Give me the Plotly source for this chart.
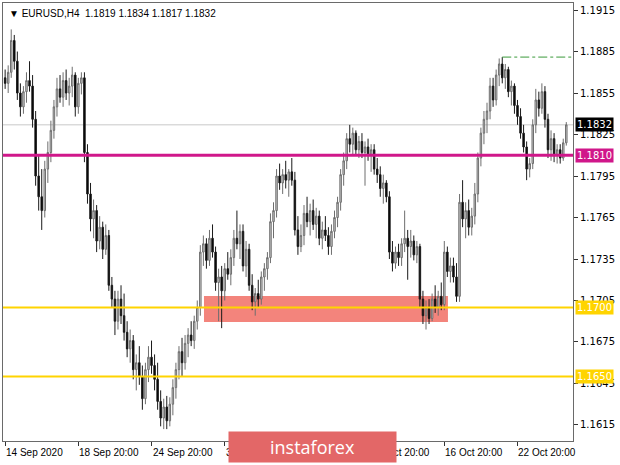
import plotly.graph_objects as go

# ---- data (EURUSD H4) ----
opens = [1.1866,1.1862,1.1870,1.1893,1.1878,1.1855,1.1845,1.1856,1.1864,1.1860,
         1.1836,1.1795,1.1780,1.1770,1.1800,1.1812,1.1828,1.1845,1.1858,1.1852,
         1.1864,1.1855,1.1860,1.1868,1.1845,1.1862,1.1866,1.1812,1.1782,1.1764,
         1.1770,1.1748,1.1758,1.1742,1.1752,1.1716,1.1706,1.1690,1.1706,1.1694,
         1.1682,1.1670,1.1676,1.1655,1.1660,1.1650,1.1634,1.1655,1.1664,1.1658,
         1.1648,1.1632,1.1620,1.1628,1.1618,1.1630,1.1642,1.1655,1.1668,1.1660,
         1.1674,1.1680,1.1676,1.1690,1.1700,1.1740,1.1746,1.1734,1.1750,1.1740,
         1.1718,1.1722,1.1712,1.1728,1.1724,1.1736,1.1750,1.1746,1.1755,1.1730,
         1.1742,1.1716,1.1704,1.1710,1.1706,1.1722,1.1728,1.1736,1.1762,1.1770,
         1.1795,1.1790,1.1796,1.1792,1.1798,1.1792,1.1756,1.1744,1.1752,1.1768,
         1.1762,1.1770,1.1760,1.1766,1.1750,1.1756,1.1752,1.1744,1.1755,1.1765,
         1.1776,1.1796,1.1806,1.1822,1.1818,1.1826,1.1814,1.1820,1.1812,1.1816,
         1.1810,1.1814,1.1800,1.1796,1.1786,1.1790,1.1780,1.1740,1.1732,1.1740,
         1.1736,1.1746,1.1750,1.1744,1.1748,1.1738,1.1744,1.1706,1.1694,1.1700,
         1.1692,1.1706,1.1700,1.1708,1.1702,1.1740,1.1726,1.1730,1.1722,1.1708,
         1.1776,1.1764,1.1770,1.1758,1.1766,1.1782,1.1808,1.1826,1.1836,1.1842,
         1.1860,1.1850,1.1868,1.1876,1.1866,1.1872,1.1856,1.1860,1.1846,1.1838,
         1.1826,1.1816,1.1800,1.1804,1.1832,1.1850,1.1844,1.1856,1.1836,1.1814,
         1.1822,1.1810,1.1814,1.1808,1.1819]
highs = [1.1872,1.1875,1.1901,1.1897,1.1885,1.1862,1.1860,1.1870,1.1878,1.1868,
         1.1842,1.1810,1.1800,1.1806,1.1820,1.1835,1.1850,1.1866,1.1868,1.1870,
         1.1872,1.1866,1.1874,1.1870,1.1866,1.1870,1.1870,1.1818,1.1790,1.1778,
         1.1774,1.1766,1.1762,1.1760,1.1756,1.1722,1.1712,1.1712,1.1716,1.1710,
         1.1690,1.1684,1.1680,1.1666,1.1672,1.1658,1.1660,1.1672,1.1676,1.1666,
         1.1660,1.1640,1.1634,1.1636,1.1635,1.1648,1.1660,1.1672,1.1678,1.1680,
         1.1685,1.1690,1.1694,1.1705,1.1745,1.1752,1.1750,1.1756,1.1760,1.1744,
         1.1728,1.1730,1.1732,1.1740,1.1742,1.1756,1.1770,1.1760,1.1760,1.1748,
         1.1746,1.1724,1.1714,1.1720,1.1726,1.1732,1.1740,1.1768,1.1776,1.1800,
         1.1804,1.1800,1.1806,1.1800,1.1808,1.1798,1.1766,1.1760,1.1774,1.1780,
         1.1775,1.1778,1.1772,1.1770,1.1762,1.1766,1.1758,1.1760,1.1770,1.1780,
         1.1800,1.1812,1.1826,1.1832,1.1830,1.1828,1.1824,1.1826,1.1820,1.1822,
         1.1818,1.1818,1.1808,1.1802,1.1796,1.1792,1.1784,1.1748,1.1744,1.1746,
         1.1750,1.1770,1.1756,1.1756,1.1752,1.1748,1.1746,1.1712,1.1705,1.1706,
         1.1710,1.1716,1.1712,1.1718,1.1748,1.1744,1.1736,1.1736,1.1732,1.1782,
         1.1792,1.1776,1.1778,1.1772,1.1790,1.1812,1.1830,1.1842,1.1848,1.1866,
         1.1866,1.1872,1.1880,1.1881,1.1876,1.1874,1.1864,1.1862,1.1850,1.1844,
         1.1832,1.1820,1.1808,1.1836,1.1858,1.1856,1.1862,1.1860,1.1840,1.1828,
         1.1826,1.1818,1.1818,1.1822,1.1834]
lows = [1.1858,1.1855,1.1866,1.1872,1.1850,1.1838,1.1840,1.1848,1.1856,1.1830,
        1.1788,1.1770,1.1756,1.1765,1.1790,1.1805,1.1822,1.1838,1.1848,1.1845,
        1.1850,1.1846,1.1852,1.1838,1.1840,1.1854,1.1805,1.1775,1.1755,1.1750,
        1.1740,1.1742,1.1735,1.1738,1.1712,1.1700,1.1680,1.1684,1.1688,1.1676,
        1.1664,1.1660,1.1648,1.1640,1.1644,1.1626,1.1630,1.1646,1.1652,1.1640,
        1.1626,1.1614,1.1612,1.1612,1.1614,1.1622,1.1634,1.1648,1.1650,1.1655,
        1.1664,1.1672,1.1670,1.1684,1.1694,1.1730,1.1728,1.1730,1.1736,1.1712,
        1.1690,1.1685,1.1705,1.1720,1.1716,1.1730,1.1742,1.1735,1.1726,1.1722,
        1.1712,1.1698,1.1694,1.1700,1.1702,1.1712,1.1720,1.1732,1.1750,1.1765,
        1.1785,1.1782,1.1786,1.1780,1.1788,1.1752,1.1738,1.1740,1.1745,1.1758,
        1.1752,1.1756,1.1750,1.1745,1.1742,1.1748,1.1738,1.1738,1.1750,1.1758,
        1.1770,1.1788,1.1800,1.1812,1.1810,1.1810,1.1808,1.1808,1.1788,1.1806,
        1.1798,1.1796,1.1790,1.1780,1.1775,1.1776,1.1735,1.1726,1.1728,1.1730,
        1.1730,1.1740,1.1720,1.1736,1.1734,1.1732,1.1700,1.1688,1.1684,1.1688,
        1.1690,1.1696,1.1694,1.1698,1.1698,1.1722,1.1718,1.1718,1.1704,1.1704,
        1.1758,1.1750,1.1752,1.1752,1.1760,1.1776,1.1802,1.1818,1.1826,1.1836,
        1.1845,1.1846,1.1860,1.1862,1.1858,1.1852,1.1846,1.1840,1.1832,1.1822,
        1.1812,1.1792,1.1794,1.1800,1.1826,1.1838,1.1840,1.1830,1.1808,1.1806,
        1.1805,1.1804,1.1804,1.1806,1.1817]
closes = [1.1862,1.1870,1.1893,1.1878,1.1855,1.1845,1.1856,1.1864,1.1860,1.1836,
          1.1795,1.1780,1.1770,1.1800,1.1812,1.1828,1.1845,1.1858,1.1852,1.1864,
          1.1855,1.1860,1.1868,1.1845,1.1862,1.1866,1.1812,1.1782,1.1764,1.1770,
          1.1748,1.1758,1.1742,1.1752,1.1716,1.1706,1.1690,1.1706,1.1694,1.1682,
          1.1670,1.1676,1.1655,1.1660,1.1650,1.1634,1.1655,1.1664,1.1658,1.1648,
          1.1632,1.1620,1.1628,1.1618,1.1630,1.1642,1.1655,1.1668,1.1660,1.1674,
          1.1680,1.1676,1.1690,1.1700,1.1740,1.1746,1.1734,1.1750,1.1740,1.1718,
          1.1722,1.1712,1.1728,1.1724,1.1736,1.1750,1.1746,1.1755,1.1730,1.1742,
          1.1716,1.1704,1.1710,1.1706,1.1722,1.1728,1.1736,1.1762,1.1770,1.1795,
          1.1790,1.1796,1.1792,1.1798,1.1792,1.1756,1.1744,1.1752,1.1768,1.1762,
          1.1770,1.1760,1.1766,1.1750,1.1756,1.1752,1.1744,1.1755,1.1765,1.1776,
          1.1796,1.1806,1.1822,1.1818,1.1826,1.1814,1.1820,1.1812,1.1816,1.1810,
          1.1814,1.1800,1.1796,1.1786,1.1790,1.1780,1.1740,1.1732,1.1740,1.1736,
          1.1746,1.1750,1.1744,1.1748,1.1738,1.1744,1.1706,1.1694,1.1700,1.1692,
          1.1706,1.1700,1.1708,1.1702,1.1740,1.1726,1.1730,1.1722,1.1708,1.1776,
          1.1764,1.1770,1.1758,1.1766,1.1782,1.1808,1.1826,1.1836,1.1842,1.1860,
          1.1850,1.1868,1.1876,1.1866,1.1872,1.1856,1.1860,1.1846,1.1838,1.1826,
          1.1816,1.1800,1.1804,1.1832,1.1850,1.1844,1.1856,1.1836,1.1814,1.1822,
          1.1810,1.1814,1.1808,1.1819,1.1832]

y_tick_vals = [1.1615, 1.1645, 1.1675, 1.1705, 1.1735, 1.1765, 1.1795,
               1.1825, 1.1855, 1.1885, 1.1915]
y_tick_text = ["1.1615", "1.1645", "1.1675", "1.1705", "1.1735", "1.1765",
               "1.1795", "1.1825", "1.1855", "1.1885", "1.1915"]
x_tick_idx = [0, 24, 48, 72, 96, 120, 144, 168]
x_tick_text = ["14 Sep 2020", "18 Sep 20:00", "24 Sep 20:00", "30 Sep 20:00",
               "6 Oct 20:00", "12 Oct 20:00", "16 Oct 20:00", "22 Oct 20:00"]

level_prices = [1.1810, 1.1700, 1.1650]
level_labels = ["1.1810", "1.1700", "1.1650"]
current_price = 1.1832
zone_low, zone_high = 1.16895, 1.17083
zone_start, zone_end = 65.2, 145.2
peak_price = 1.1881
peak_idx = 163
title_text = "\u25bc EURUSD,H4  1.1819 1.1834 1.1817 1.1832"

idx = list(range(len(closes)))
FONT = "DejaVu Sans"
FONT2 = "Liberation Sans"

fig = go.Figure()
fig.add_trace(go.Candlestick(
    x=idx, open=opens, high=highs, low=lows, close=closes,
    increasing=dict(line=dict(color="#6e6e6e", width=1), fillcolor="#d0d0d0"),
    decreasing=dict(line=dict(color="#1a1a1a", width=1), fillcolor="#000000"),
    whiskerwidth=0, hoverinfo="skip", showlegend=False,
))

shapes = []
shapes.append(dict(type="rect", xref="x", yref="y", x0=zone_start, x1=zone_end,
                   y0=zone_low, y1=zone_high, fillcolor="#f3847c",
                   line=dict(width=0), layer="below"))
shapes.append(dict(type="line", xref="paper", yref="y", x0=0, x1=1,
                   y0=current_price, y1=current_price,
                   line=dict(color="#c8c8c8", width=1), layer="below"))
lvl_colors = ["#d0178a", "#ffd400", "#ffd400"]
lvl_widths = [3, 2, 2]
for p, c, w in zip(level_prices, lvl_colors, lvl_widths):
    shapes.append(dict(type="line", xref="paper", yref="y", x0=0, x1=1,
                       y0=p, y1=p, line=dict(color=c, width=w), layer="above"))
shapes.append(dict(type="line", xref="x", yref="y", x0=peak_idx, x1=186.0,
                   y0=peak_price, y1=peak_price,
                   line=dict(color="#3a9a3a", width=1, dash="dashdot"), layer="above"))

annotations = []
tag_prices = [current_price] + level_prices
tag_texts = ["1.1832"] + level_labels
tag_bg = ["#000000", "#d0178a", "#ffd400", "#ffd400"]
for p, t, bg in zip(tag_prices, tag_texts, tag_bg):
    annotations.append(dict(xref="paper", yref="y", x=1, y=p, xanchor="left",
                            yanchor="middle", xshift=2, text=t, showarrow=False,
                            bgcolor=bg, borderpad=1,
                            font=dict(family=FONT, size=10, color="#ffffff")))
for i, t in zip(x_tick_idx, x_tick_text):
    annotations.append(dict(xref="x", yref="paper", x=i, y=0, xanchor="left",
                            yanchor="top", yshift=-4, xshift=-1, text=t,
                            showarrow=False,
                            font=dict(family=FONT2, size=10, color="#000000")))
annotations.append(dict(xref="paper", yref="paper", x=0, y=1, xanchor="left",
                        yanchor="top", xshift=4, yshift=-3, text=title_text,
                        showarrow=False,
                        font=dict(family=FONT2, size=10, color="#000000")))
annotations.append(dict(xref="paper", yref="paper", x=0.3947, y=-0.0502,
                        xanchor="left", yanchor="bottom", text="instaforex",
                        showarrow=False, width=165, height=28,
                        bgcolor="#e36767", align="center", valign="middle",
                        font=dict(family="Open Sans", size=18, color="#ffffff")))

fig.update_layout(
    width=620, height=465,
    margin=dict(l=3, r=47, t=3, b=24),
    paper_bgcolor="#ffffff", plot_bgcolor="#ffffff",
    shapes=shapes, annotations=annotations,
    xaxis=dict(range=[-0.7, 186.2], rangeslider=dict(visible=False),
               showgrid=False, zeroline=False, showline=True, mirror=True,
               linecolor="#6a6a6a", linewidth=1,
               tickvals=x_tick_idx, showticklabels=False,
               ticks="outside", ticklen=4, tickcolor="#333333"),
    yaxis=dict(range=[1.16034, 1.19201], side="right", showgrid=False,
               zeroline=False, showline=True, mirror=True,
               linecolor="#6a6a6a", linewidth=1,
               tickvals=y_tick_vals, ticktext=y_tick_text,
               ticks="outside", ticklen=4, tickcolor="#333333",
               tickfont=dict(family=FONT, size=10, color="#000000")),
)

fig.write_html("out.html", config={"displayModeBar": False},
               post_script="document.body.style.margin='0';")
